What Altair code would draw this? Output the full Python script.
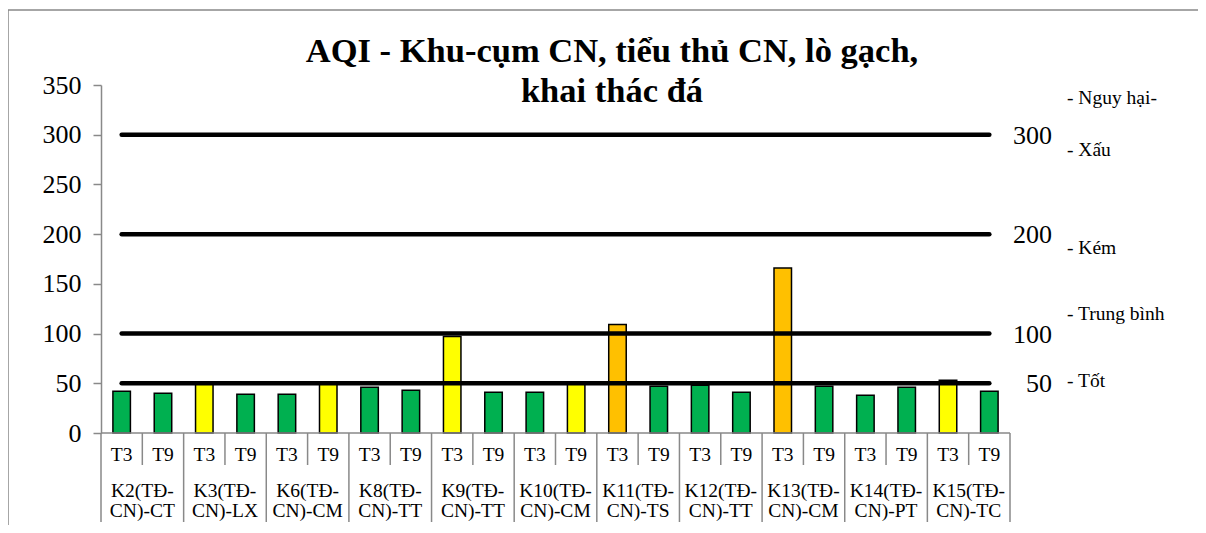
import altair as alt
import pandas as pd

# ---------------- data ----------------
groups = ["K2(TĐ-CN)-CT", "K3(TĐ-CN)-LX", "K6(TĐ-CN)-CM", "K8(TĐ-CN)-TT",
          "K9(TĐ-CN)-TT", "K10(TĐ-CN)-CM", "K11(TĐ-CN)-TS", "K12(TĐ-CN)-TT",
          "K13(TĐ-CN)-CM", "K14(TĐ-CN)-PT", "K15(TĐ-CN)-TC"]
group_lines = ["K2(TĐ-\nCN)-CT", "K3(TĐ-\nCN)-LX", "K6(TĐ-\nCN)-CM", "K8(TĐ-\nCN)-TT",
               "K9(TĐ-\nCN)-TT", "K10(TĐ-\nCN)-CM", "K11(TĐ-\nCN)-TS", "K12(TĐ-\nCN)-TT",
               "K13(TĐ-\nCN)-CM", "K14(TĐ-\nCN)-PT", "K15(TĐ-\nCN)-TC"]
periods = ["T3", "T9"]
aqi_t3 = [42, 51, 39, 46, 97, 41, 109, 48, 166, 38, 53]
aqi_t9 = [40, 39, 51, 43, 41, 51, 47, 41, 47, 46, 42]
levels = [50, 100, 200, 300]
level_labels = ["50", "100", "200", "300"]
y_ticks = [0, 50, 100, 150, 200, 250, 300, 350]
band_names = ["- Nguy hại-", "- Xấu", "- Kém", "- Trung bình", "- Tốt"]
title_text = "AQI - Khu-cụm CN, tiểu thủ CN, lò gạch,\nkhai thác đá"

GREEN, YELLOW, ORANGE = "#00B050", "#FFFF00", "#FFC000"

def aqi_color(v):
    if v > 100:
        return ORANGE
    if v > 50:
        return YELLOW
    return GREEN

rows = []
for g, gl, a, b in zip(groups, group_lines, aqi_t3, aqi_t9):
    for p, v in zip(periods, (a, b)):
        rows.append(dict(group=g, glabel=gl, period=p, slot=f"{g}|{p}", aqi=v, color=aqi_color(v)))
df = pd.DataFrame(rows)
slots = list(df["slot"])

lev_rows = []
for lv in levels:
    for s in slots:
        lev_rows.append(dict(aqi=lv, level=lv, slot=s))
lev_df = pd.DataFrame(lev_rows)
lev_lab_df = pd.DataFrame({"aqi": levels, "label": level_labels})

# ---------------- layout constants ----------------
W, H = 909, 348
FONT = "Liberation Serif"
GRAY = "#898989"
band_name_y = [19, 71, 169, 235, 302]   # pixel baselines (plot-relative)

yaxis = alt.Axis(values=y_ticks, title=None, grid=False,
                 domainColor=GRAY, domainWidth=1.5, tickColor=GRAY, tickWidth=1.5,
                 tickSize=8, labelFont=FONT, labelFontSize=26, labelColor="black",
                 labelPadding=12)
yscale = alt.Scale(domain=[0, 350])


def X(band=0.5):
    return alt.X("slot:N", sort=slots,
                 scale=alt.Scale(domain=slots, paddingInner=0, paddingOuter=0),
                 axis=None, bandPosition=band)


def Y():
    return alt.Y("aqi:Q", scale=yscale, axis=yaxis)


bars = alt.Chart(df).mark_bar(width=17.5, stroke="black", strokeWidth=1.5).encode(
    x=X(), y=Y(), color=alt.Color("color:N", scale=None))

lines = alt.Chart(lev_df).mark_line(color="black", strokeWidth=4.5, strokeCap="round").encode(
    x=X(), y=Y(), detail="level:N")

base_rule = alt.Chart(pd.DataFrame({"a": [0]})).mark_rule(color=GRAY, strokeWidth=1.5).encode(
    x=alt.value(0), x2=alt.value(W), y=alt.value(H))

inner_sep = alt.Chart(df[df.period == "T9"]).mark_rule(color=GRAY, strokeWidth=1.5).encode(
    x=X(0), y=alt.value(H), y2=alt.value(380))
group_sep = alt.Chart(df[df.period == "T3"]).mark_rule(color=GRAY, strokeWidth=1.5).encode(
    x=X(0), y=alt.value(H), y2=alt.value(437))
end_sep = alt.Chart(df.tail(1)).mark_rule(color=GRAY, strokeWidth=1.5).encode(
    x=X(1), y=alt.value(H), y2=alt.value(437))

period_text = alt.Chart(df).mark_text(font=FONT, fontSize=19.5, color="black",
                                      baseline="alphabetic", align="center").encode(
    x=X(), y=alt.value(376), text="period:N")

group_text = alt.Chart(df[df.period == "T9"]).mark_text(
    font=FONT, fontSize=19.5, color="black", baseline="alphabetic", align="center",
    lineBreak="\n", lineHeight=20).encode(
    x=X(0), y=alt.value(412), text="glabel:N")

level_text = alt.Chart(lev_lab_df).mark_text(font=FONT, fontSize=26, color="black",
                                             align="right", baseline="middle", dy=1).encode(
    x=alt.value(951), y=Y(), text="label:N")

band_layers = []
for name, yy in zip(band_names, band_name_y):
    band_layers.append(
        alt.Chart(pd.DataFrame({"t": [name]})).mark_text(
            font=FONT, fontSize=19.5, color="black", align="left", baseline="alphabetic").encode(
            x=alt.value(966), y=alt.value(yy), text="t:N"))

title = alt.Chart(pd.DataFrame({"t": [title_text]})).mark_text(
    font=FONT, fontSize=34.5, fontWeight="bold", color="black", align="center",
    baseline="alphabetic", lineBreak="\n", lineHeight=40).encode(
    x=alt.value(511), y=alt.value(-23), text="t:N")

border = alt.Chart(pd.DataFrame({"a": [0]})).mark_rect(
    fillOpacity=0, stroke=GRAY, strokeWidth=1.5).encode(
    x=alt.value(-93), x2=alt.value(1400), y=alt.value(-75), y2=alt.value(800))

chart = alt.layer(bars, border, base_rule, inner_sep, group_sep, end_sep, lines,
                  period_text, group_text, level_text, title, *band_layers).properties(
    width=W, height=H,
    autosize=alt.AutoSizeParams(type="none"),
    padding={"left": 93, "top": 77, "right": 188, "bottom": 92},
).configure_view(stroke=None)

chart.save("out.html", embed_options={"renderer": "svg", "actions": False})
